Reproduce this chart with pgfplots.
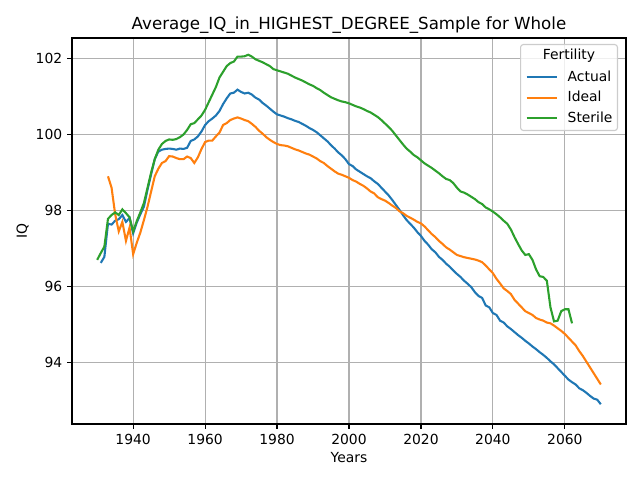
\documentclass[border=0pt]{standalone}
\usepackage{pgfplots}
\pgfplotsset{compat=1.18}
\usepackage{pgfplotstable}
\usepackage{fontspec}
\setmainfont{DejaVu Sans}
\definecolor{tabblue}{HTML}{1F77B4}
\definecolor{taborange}{HTML}{FF7F0E}
\definecolor{tabgreen}{HTML}{2CA02C}
\definecolor{gridgray}{HTML}{B0B0B0}
\definecolor{leggray}{HTML}{CCCCCC}

\pgfplotstableread{
year iq
1931 96.62
1932 96.78
1933 97.65
1934 97.63
1935 97.73
1936 97.77
1937 97.88
1938 97.70
1939 97.80
1940 97.40
1941 97.68
1942 97.90
1943 98.10
1944 98.55
1945 98.95
1946 99.35
1947 99.55
1948 99.60
1949 99.62
1950 99.63
1951 99.62
1952 99.60
1953 99.63
1954 99.62
1955 99.65
1956 99.83
1957 99.87
1958 99.95
1959 100.08
1960 100.25
1961 100.35
1962 100.42
1963 100.50
1964 100.62
1965 100.80
1966 100.95
1967 101.08
1968 101.10
1969 101.18
1970 101.12
1971 101.08
1972 101.10
1973 101.05
1974 100.97
1975 100.92
1976 100.83
1977 100.76
1978 100.68
1979 100.60
1980 100.53
1981 100.50
1982 100.47
1983 100.43
1984 100.40
1985 100.36
1986 100.33
1987 100.28
1988 100.23
1989 100.17
1990 100.12
1991 100.06
1992 99.98
1993 99.90
1994 99.82
1995 99.72
1996 99.63
1997 99.53
1998 99.45
1999 99.35
2000 99.22
2001 99.17
2002 99.08
2003 99.02
2004 98.96
2005 98.90
2006 98.85
2007 98.77
2008 98.70
2009 98.60
2010 98.50
2011 98.40
2012 98.28
2013 98.15
2014 98.02
2015 97.88
2016 97.75
2017 97.65
2018 97.55
2019 97.43
2020 97.33
2021 97.20
2022 97.10
2023 96.98
2024 96.90
2025 96.78
2026 96.70
2027 96.60
2028 96.52
2029 96.42
2030 96.33
2031 96.25
2032 96.15
2033 96.07
2034 95.98
2035 95.85
2036 95.75
2037 95.70
2038 95.50
2039 95.45
2040 95.30
2041 95.25
2042 95.10
2043 95.05
2044 94.95
2045 94.88
2046 94.80
2047 94.72
2048 94.65
2049 94.57
2050 94.50
2051 94.42
2052 94.35
2053 94.27
2054 94.20
2055 94.12
2056 94.03
2057 93.95
2058 93.85
2059 93.75
2060 93.65
2061 93.55
2062 93.48
2063 93.42
2064 93.32
2065 93.27
2066 93.20
2067 93.12
2068 93.05
2069 93.02
2070 92.90
}\actual

\pgfplotstableread{
year iq
1933 98.90
1934 98.60
1935 97.90
1936 97.45
1937 97.70
1938 97.20
1939 97.55
1940 96.85
1941 97.15
1942 97.42
1943 97.75
1944 98.10
1945 98.50
1946 98.90
1947 99.10
1948 99.25
1949 99.30
1950 99.43
1951 99.42
1952 99.38
1953 99.35
1954 99.35
1955 99.42
1956 99.38
1957 99.25
1958 99.40
1959 99.62
1960 99.80
1961 99.84
1962 99.84
1963 99.95
1964 100.05
1965 100.25
1966 100.30
1967 100.38
1968 100.42
1969 100.45
1970 100.42
1971 100.38
1972 100.35
1973 100.28
1974 100.20
1975 100.10
1976 100.02
1977 99.93
1978 99.86
1979 99.80
1980 99.75
1981 99.72
1982 99.71
1983 99.69
1984 99.65
1985 99.61
1986 99.58
1987 99.54
1988 99.50
1989 99.47
1990 99.42
1991 99.37
1992 99.30
1993 99.25
1994 99.17
1995 99.10
1996 99.03
1997 98.97
1998 98.94
1999 98.90
2000 98.86
2001 98.80
2002 98.76
2003 98.70
2004 98.65
2005 98.58
2006 98.50
2007 98.45
2008 98.35
2009 98.30
2010 98.26
2011 98.20
2012 98.13
2013 98.07
2014 97.98
2015 97.93
2016 97.86
2017 97.81
2018 97.76
2019 97.70
2020 97.66
2021 97.58
2022 97.48
2023 97.38
2024 97.30
2025 97.20
2026 97.12
2027 97.03
2028 96.97
2029 96.90
2030 96.83
2031 96.80
2032 96.77
2033 96.75
2034 96.73
2035 96.71
2036 96.68
2037 96.64
2038 96.55
2039 96.45
2040 96.35
2041 96.20
2042 96.08
2043 95.95
2044 95.88
2045 95.80
2046 95.65
2047 95.55
2048 95.45
2049 95.35
2050 95.30
2051 95.25
2052 95.17
2053 95.13
2054 95.10
2055 95.05
2056 95.03
2057 94.97
2058 94.90
2059 94.83
2060 94.75
2061 94.65
2062 94.55
2063 94.45
2064 94.30
2065 94.17
2066 94.02
2067 93.87
2068 93.72
2069 93.57
2070 93.42
}\ideal

\pgfplotstableread{
year iq
1930 96.70
1931 96.88
1932 97.05
1933 97.78
1934 97.88
1935 97.95
1936 97.88
1937 98.03
1938 97.93
1939 97.82
1940 97.45
1941 97.72
1942 97.95
1943 98.20
1944 98.60
1945 99.00
1946 99.35
1947 99.60
1948 99.75
1949 99.83
1950 99.87
1951 99.86
1952 99.88
1953 99.93
1954 100.00
1955 100.12
1956 100.27
1957 100.30
1958 100.40
1959 100.50
1960 100.65
1961 100.85
1962 101.05
1963 101.25
1964 101.50
1965 101.65
1966 101.80
1967 101.88
1968 101.92
1969 102.05
1970 102.05
1971 102.06
1972 102.10
1973 102.05
1974 101.98
1975 101.94
1976 101.90
1977 101.85
1978 101.80
1979 101.72
1980 101.69
1981 101.66
1982 101.63
1983 101.60
1984 101.55
1985 101.50
1986 101.46
1987 101.42
1988 101.37
1989 101.32
1990 101.28
1991 101.22
1992 101.17
1993 101.10
1994 101.04
1995 100.98
1996 100.94
1997 100.90
1998 100.87
1999 100.85
2000 100.82
2001 100.78
2002 100.74
2003 100.71
2004 100.67
2005 100.62
2006 100.58
2007 100.52
2008 100.46
2009 100.38
2010 100.29
2011 100.20
2012 100.10
2013 99.98
2014 99.86
2015 99.74
2016 99.63
2017 99.55
2018 99.46
2019 99.40
2020 99.32
2021 99.24
2022 99.18
2023 99.12
2024 99.05
2025 98.98
2026 98.90
2027 98.83
2028 98.80
2029 98.72
2030 98.60
2031 98.50
2032 98.47
2033 98.42
2034 98.36
2035 98.30
2036 98.22
2037 98.17
2038 98.08
2039 98.03
2040 97.97
2041 97.90
2042 97.82
2043 97.73
2044 97.65
2045 97.50
2046 97.30
2047 97.12
2048 96.95
2049 96.83
2050 96.85
2051 96.70
2052 96.45
2053 96.27
2054 96.25
2055 96.15
2056 95.45
2057 95.08
2058 95.10
2059 95.35
2060 95.40
2061 95.40
2062 95.03
}\sterile

\begin{document}
\begin{tikzpicture}
\path[use as bounding box] (-51.84pt,-40.32pt) rectangle (408.96pt,305.28pt);
\begin{axis}[
  at={(0pt,0pt)}, anchor=south west,
  scale only axis,
  width=398.88pt, height=277.92pt,
  xmin=1923, xmax=2077,
  ymin=92.38, ymax=102.54,
  xtick={1940,1960,1980,2000,2020,2040,2060},
  ytick={94,96,98,100,102},
  /pgf/number format/assume math mode=true,
  xticklabel style={/pgf/number format/1000 sep={}},
  tick label style={font=\fontsize{10}{12}\selectfont},
  tick align=outside,
  tick pos=left,
  major tick length=3.5pt,
  tick style={line width=0.8pt, black},
  axis line style={line width=0.8pt},
  grid=major,
  major grid style={line width=0.8pt, gridgray},
  title={Average\_IQ\_in\_HIGHEST\_DEGREE\_Sample for Whole},
  title style={at={(axis description cs:0.5,1)}, anchor=base, font=\fontsize{12}{14}\selectfont, inner sep=0pt},
  xlabel={Years},
  xlabel style={at={(axis description cs:0.5,0)}, anchor=base, yshift=-28pt, font=\fontsize{10}{12}\selectfont, inner sep=0pt},
  ylabel={IQ},
  ylabel style={anchor=base, font=\fontsize{10}{12}\selectfont, inner sep=0pt},
  every axis y label/.append style={at={([xshift=-32.4pt]axis description cs:0,0.5)}},
  legend cell align=left,
  legend image code/.code={\draw[#1] (0pt,0pt) -- (21.6pt,0pt);},
  legend style={
    at={(axis description cs:0.9856,0.9845)}, anchor=north east,
    draw=leggray, line width=0.8pt, fill=white, fill opacity=0.8, text opacity=1,
    rounded corners=2pt,
    font=\fontsize{10}{12}\selectfont,
    inner xsep=3.6pt, inner ysep=4pt,
    row sep=5.3pt,
    nodes={inner sep=0pt, text height=7.5pt, text depth=2pt, text opacity=1},
    column sep=0pt,
    label={[anchor=north, yshift=-3.5pt, font=\fontsize{10}{12}\selectfont, inner sep=0pt, text opacity=1]north:Fertility},
  },
  legend style={/tikz/every odd column/.append style={column sep=7.2pt}},
]
\addlegendimage{empty legend}
\addlegendentry{}
\addplot[tabblue, line width=1.5pt] table[x=year, y=iq] {\actual};
\addlegendentry{Actual}
\addplot[taborange, line width=1.5pt] table[x=year, y=iq] {\ideal};
\addlegendentry{Ideal}
\addplot[tabgreen, line width=1.5pt] table[x=year, y=iq] {\sterile};
\addlegendentry{Sterile}
\end{axis}
\end{tikzpicture}
\end{document}
